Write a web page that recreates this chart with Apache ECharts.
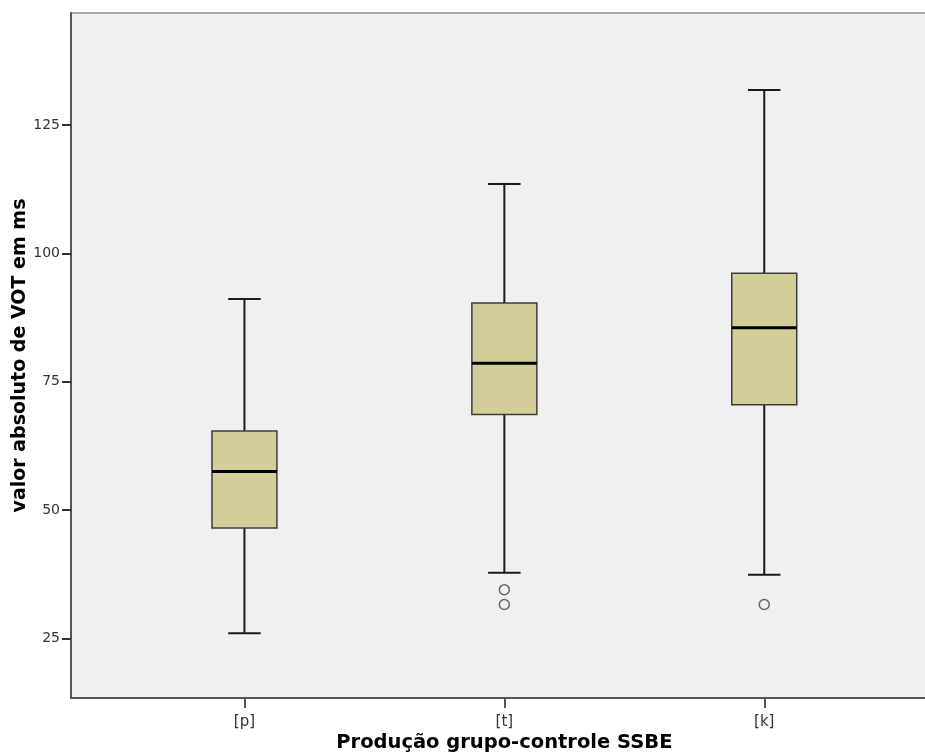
<!DOCTYPE html>
<html>
<head>
<meta charset="utf-8">
<script src="https://cdn.jsdelivr.net/npm/echarts@6/dist/echarts.min.js"></script>
<style>html,body{margin:0;padding:0;background:#fff;}#c{width:925px;height:756px;}</style>
</head>
<body>
<div id="c"></div>
<script>
const categories = ['[p]', '[t]', '[k]'];
const whiskerLow = [26.0, 37.8, 37.4];
const q1 = [46.5, 68.6, 70.5];
const median = [57.5, 78.6, 85.5];
const q3 = [65.4, 90.3, 96.1];
const whiskerHigh = [91.1, 113.5, 131.8];
const outliers = [[1, 34.5], [1, 31.6], [2, 31.6]];
const yTicks = [25, 50, 75, 100, 125];
const yMin = 13.4, yMax = 146.8;

const boxData = categories.map((c, i) => [i, whiskerLow[i], q1[i], median[i], q3[i], whiskerHigh[i]]);

const chart = echarts.init(document.getElementById('c'), null, {renderer: 'canvas'});
const FONT = '"DejaVu Sans", Arial, sans-serif';

function renderBox(params, api) {
  const x = api.value(0);
  const pLow = api.coord([x, api.value(1)]);
  const pQ1 = api.coord([x, api.value(2)]);
  const pMed = api.coord([x, api.value(3)]);
  const pQ3 = api.coord([x, api.value(4)]);
  const pHigh = api.coord([x, api.value(5)]);
  const band = api.size([1, 0])[0];
  const bw = band * 0.25;
  const cw = bw * 0.5;
  const cx = pMed[0];
  const lineStyle = {stroke: '#1a1a1a', lineWidth: 2};
  return {
    type: 'group',
    children: [
      {type: 'line', shape: {x1: cx, y1: pQ3[1], x2: cx, y2: pHigh[1]}, style: lineStyle},
      {type: 'line', shape: {x1: cx, y1: pQ1[1], x2: cx, y2: pLow[1]}, style: lineStyle},
      {type: 'line', shape: {x1: cx - cw / 2, y1: pHigh[1], x2: cx + cw / 2, y2: pHigh[1]}, style: lineStyle},
      {type: 'line', shape: {x1: cx - cw / 2, y1: pLow[1], x2: cx + cw / 2, y2: pLow[1]}, style: lineStyle},
      {type: 'rect', shape: {x: cx - bw / 2, y: pQ3[1], width: bw, height: pQ1[1] - pQ3[1]},
        style: {fill: '#d3ce97', stroke: '#3c3c3c', lineWidth: 1.5}},
      {type: 'line', shape: {x1: cx - bw / 2, y1: pMed[1], x2: cx + bw / 2, y2: pMed[1]},
        style: {stroke: '#000', lineWidth: 3}}
    ]
  };
}

const option = {
  backgroundColor: '#ffffff',
  animation: false,
  grid: [
    {left: 71, top: 13, right: -20, bottom: 58, show: true, backgroundColor: '#f0f0f0',
      borderColor: '#8c8c8c', borderWidth: 1.5, containLabel: false, outerBoundsMode: 'none'},
    {left: 114.5, top: 13, right: 30.8, bottom: 58, containLabel: false, outerBoundsMode: 'none'}
  ],
  xAxis: [
    {gridIndex: 0, type: 'value', min: 0, max: 1, axisLabel: {show: false}, axisTick: {show: false},
      splitLine: {show: false}, axisLine: {show: true, lineStyle: {color: '#555', width: 2}}},
    {gridIndex: 1, type: 'category', data: categories,
      axisLine: {show: false},
      axisTick: {show: true, alignWithLabel: true, length: 10, lineStyle: {color: '#555', width: 2}},
      axisLabel: {fontSize: 15, color: '#333', margin: 17, fontFamily: FONT},
      splitLine: {show: false},
      name: 'Produção grupo-controle SSBE', nameLocation: 'middle', nameGap: 35, nameMoveOverlap: false,
      nameTextStyle: {fontSize: 19.5, fontWeight: 'bold', color: '#000', fontFamily: FONT}}
  ],
  yAxis: [
    {gridIndex: 0, type: 'value', min: yMin, max: yMax,
      axisLine: {show: true, lineStyle: {color: '#555', width: 2}},
      axisTick: {show: true, length: 9, customValues: yTicks, lineStyle: {color: '#333', width: 2}},
      axisLabel: {customValues: yTicks, fontSize: 14, color: '#333', margin: 11, fontFamily: FONT},
      splitLine: {show: false},
      name: 'valor absoluto de VOT em ms', nameLocation: 'middle', nameGap: 41, nameRotate: 90,
      nameMoveOverlap: false,
      nameTextStyle: {fontSize: 19, fontWeight: 'bold', color: '#000', fontFamily: FONT}},
    {gridIndex: 1, type: 'value', min: yMin, max: yMax, show: false}
  ],
  series: [
    {type: 'custom', xAxisIndex: 1, yAxisIndex: 1, data: boxData, renderItem: renderBox,
      encode: {x: 0, y: [1, 2, 3, 4, 5]}},
    {type: 'scatter', xAxisIndex: 1, yAxisIndex: 1, data: outliers, symbol: 'circle', symbolSize: 10,
      itemStyle: {color: '#f0f0f0', borderColor: '#444', borderWidth: 1.5}}
  ]
};
chart.setOption(option);
</script>
</body>
</html>
